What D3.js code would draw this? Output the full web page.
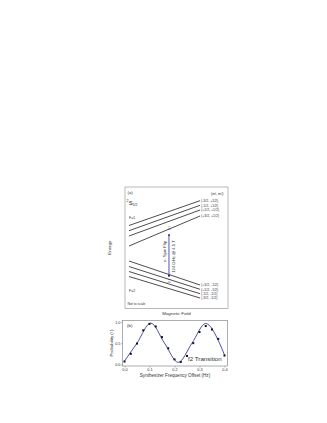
<!DOCTYPE html>
<html>
<head>
<meta charset="utf-8">
<script src="https://cdn.jsdelivr.net/npm/d3@7"></script>
<style>
  body { margin: 0; background: #fff; }
  text { font-family: "Liberation Sans", Arial, sans-serif; }
</style>
</head>
<body>
<script>
// Panel (a): energy levels, arbitrary units, read at the left and right ends
let upperLabels = ["(-3/2, +1/2)", "(-1/2, +1/2)", "(+1/2, +1/2)", "(+3/2, +1/2)"];
let upperStart = [83.5, 78.3, 73, 63];
let upperEnd = [108.3, 103.7, 99, 93];
let lowerLabels = ["(+3/2, -1/2)", "(+1/2, -1/2)", "(-1/2, -1/2)", "(-3/2, -1/2)"];
let lowerStart = [48, 42.5, 37.5, 32.5];
let lowerEnd = [24, 19.7, 15.3, 11];
let flipField = 0.563;
let flipFrom = 75;
let flipTo = 32;

// Panel (b): measured probability and the fitted curve
let offsets = [0, 0.025, 0.05, 0.075, 0.1, 0.125, 0.15, 0.175, 0.2, 0.225, 0.25, 0.275, 0.3, 0.325, 0.35, 0.375, 0.4];
let probs = [0.07, 0.25, 0.49, 0.8, 0.95, 0.89, 0.64, 0.38, 0.12, 0.06, 0.2, 0.5, 0.76, 0.9, 0.82, 0.6, 0.21];
let fitX = [0, 0.05, 0.105, 0.16, 0.215, 0.27, 0.325, 0.38, 0.4];
let fitY = [0.08, 0.5, 0.97, 0.5, 0.05, 0.5, 0.96, 0.5, 0.22];
let xTicks = [0, 0.1, 0.2, 0.3, 0.4];
let yTicks = [0, 0.5, 1.0];

let w = 327;
let h = 423;
let svg = d3.select("body").append("svg").attr("width", w).attr("height", h);

// ---------- panel (a)
let boxA = { x0: 125, y0: 187, x1: 228, y1: 308.5 };
svg.append("rect")
  .attr("x", boxA.x0).attr("y", boxA.y0)
  .attr("width", boxA.x1 - boxA.x0).attr("height", boxA.y1 - boxA.y0)
  .attr("fill", "none").attr("stroke", "#9a9a9a").attr("stroke-width", 0.7);

let fScale = d3.scaleLinear().domain([0, 1]).range([129, 200]);
let eScale = d3.scaleLinear().domain([0, 121]).range([309, 188]);

let levels = [];
upperLabels.forEach((l, i) => levels.push({ label: l, e0: upperStart[i], e1: upperEnd[i] }));
lowerLabels.forEach((l, i) => levels.push({ label: l, e0: lowerStart[i], e1: lowerEnd[i] }));

svg.selectAll("line.level")
  .data(levels)
  .enter()
  .append("line")
  .attr("class", "level")
  .attr("x1", fScale(0))
  .attr("y1", (d) => eScale(d.e0))
  .attr("x2", fScale(1))
  .attr("y2", (d) => eScale(d.e1))
  .attr("stroke", "#111")
  .attr("stroke-width", 0.75);

svg.selectAll("text.lvl")
  .data(levels)
  .enter()
  .append("text")
  .attr("class", "lvl")
  .attr("x", fScale(1) + 1)
  .attr("y", (d) => eScale(d.e1))
  .attr("dy", "0.35em")
  .attr("font-size", "3.5px")
  .attr("fill", "#333")
  .text((d) => d.label);

let hdr = svg.append("text")
  .attr("x", 211).attr("y", 194.5)
  .attr("font-size", "3.6px").attr("fill", "#333");
hdr.append("tspan").text("(m");
hdr.append("tspan").attr("font-size", "2.6px").attr("dy", 0.8).text("I");
hdr.append("tspan").attr("dy", -0.8).text(", m");
hdr.append("tspan").attr("font-size", "2.6px").attr("dy", 0.8).text("J");
hdr.append("tspan").attr("dy", -0.8).text(")");

svg.append("text").attr("x", 127.5).attr("y", 194).attr("font-size", "4.2px").attr("fill", "#333").text("(a)");

let term = svg.append("text").attr("x", 126.5).attr("y", 205).attr("fill", "#222");
term.append("tspan").attr("font-size", "3.4px").attr("dy", -2.6).text("2");
term.append("tspan").attr("font-size", "6px").attr("dx", 0.3).attr("dy", 2.6).text("S");
term.append("tspan").attr("font-size", "3.4px").attr("dy", 1.3).text("1/2");

svg.append("text").attr("x", 129).attr("y", 219).attr("font-size", "3.6px").attr("fill", "#333").text("F=1");
svg.append("text").attr("x", 129).attr("y", 292).attr("font-size", "3.6px").attr("fill", "#333").text("F=2");
svg.append("text").attr("x", 127.5).attr("y", 304.5).attr("font-size", "3.4px").attr("fill", "#333").text("Not to scale");

// spin flip arrow
let defs = svg.append("defs");
defs.append("marker")
  .attr("id", "ah")
  .attr("viewBox", "0 0 10 10")
  .attr("refX", 9).attr("refY", 5)
  .attr("markerWidth", 3.2).attr("markerHeight", 3.2)
  .attr("orient", "auto-start-reverse")
  .append("path").attr("d", "M0,0 L10,5 L0,10 Z").attr("fill", "#2a2a9a");

svg.append("line")
  .attr("x1", fScale(flipField)).attr("y1", eScale(flipFrom))
  .attr("x2", fScale(flipField)).attr("y2", eScale(flipTo))
  .attr("stroke", "#2a2a9a").attr("stroke-width", 0.8)
  .attr("marker-start", "url(#ah)").attr("marker-end", "url(#ah)");

let mid = (eScale(flipFrom) + eScale(flipTo)) / 2;
svg.append("text")
  .attr("transform", `translate(${fScale(flipField) - 4},${mid - 4}) rotate(-90)`)
  .attr("text-anchor", "middle").attr("dy", "0.35em")
  .attr("font-size", "4.2px").attr("fill", "#333")
  .text("e- Spin Flip");
svg.append("text")
  .attr("transform", `translate(${fScale(flipField) + 4.5},${mid + 1}) rotate(-90)`)
  .attr("text-anchor", "middle").attr("dy", "0.35em")
  .attr("font-size", "4.2px").attr("fill", "#333")
  .text("124 GHz @ 4.5 T");
svg.append("text")
  .attr("transform", `translate(${fScale(flipField)},${eScale(flipFrom) - 6}) rotate(-90)`)
  .attr("text-anchor", "middle").attr("dy", "0.35em")
  .attr("font-size", "3.4px").attr("fill", "#333")
  .text("|↑⟩");
svg.append("text")
  .attr("transform", `translate(${fScale(flipField)},${eScale(flipTo) + 4}) rotate(-90)`)
  .attr("text-anchor", "middle").attr("dy", "0.35em")
  .attr("font-size", "3.4px").attr("fill", "#333")
  .text("|↓⟩");

svg.append("text")
  .attr("x", (boxA.x0 + boxA.x1) / 2).attr("y", 314.5)
  .attr("text-anchor", "middle").attr("font-size", "4.4px").attr("fill", "#333")
  .text("Magnetic Field");
svg.append("text")
  .attr("transform", `translate(111,${(boxA.y0 + boxA.y1) / 2}) rotate(-90)`)
  .attr("text-anchor", "middle").attr("font-size", "4.4px").attr("fill", "#333")
  .text("Energy");

// ---------- panel (b)
let xScale = d3.scaleLinear().domain([-0.008, 0.412]).range([122.5, 227.5]);
let yScale = d3.scaleLinear().domain([-0.035, 1.03]).range([366, 320.5]);

svg.append("rect")
  .attr("x", 122.5).attr("y", 320.5)
  .attr("width", 105).attr("height", 45.5)
  .attr("fill", "none").attr("stroke", "#8a8a8a").attr("stroke-width", 0.7);

let xAxis = d3.axisBottom(xScale).tickValues(xTicks).tickFormat(d3.format(".1f")).tickSize(1.5).tickPadding(0.8);
let gx = svg.append("g").attr("transform", "translate(0,366)").call(xAxis);
let yAxis = d3.axisLeft(yScale).tickValues(yTicks).tickFormat(d3.format(".1f")).tickSize(1.5).tickPadding(0.6);
let gy = svg.append("g").attr("transform", "translate(122.5,0)").call(yAxis);
[gx, gy].forEach((g) => {
  g.select(".domain").remove();
  g.selectAll("line").attr("stroke", "#8a8a8a").attr("stroke-width", 0.6);
  g.selectAll("text").attr("font-size", "3.8px").attr("fill", "#333").attr("font-family", "Liberation Sans, Arial, sans-serif");
});

let fit = fitX.map((x, i) => [x, fitY[i]]);
svg.append("path")
  .datum(fit)
  .attr("d", d3.line().x((d) => xScale(d[0])).y((d) => yScale(d[1])).curve(d3.curveMonotoneX))
  .attr("fill", "none").attr("stroke", "#3b3ba8").attr("stroke-width", 0.9);

svg.selectAll("rect.pt")
  .data(offsets)
  .enter()
  .append("rect")
  .attr("class", "pt")
  .attr("x", (d) => xScale(d) - 1)
  .attr("y", (d, i) => yScale(probs[i]) - 1)
  .attr("width", 2).attr("height", 2)
  .attr("fill", "#111");

svg.append("text").attr("x", 127).attr("y", 327).attr("font-size", "4.4px").attr("fill", "#333").text("(b)");
svg.append("text").attr("x", 188).attr("y", 361).attr("font-size", "6.2px").attr("fill", "#333").text("f2 Transition");

svg.append("text")
  .attr("x", 175).attr("y", 376.5)
  .attr("text-anchor", "middle").attr("font-size", "4.6px").attr("fill", "#333")
  .text("Synthesizer Frequency Offset (Hz)");
svg.append("text")
  .attr("transform", "translate(112.5,343) rotate(-90)")
  .attr("text-anchor", "middle").attr("font-size", "4.4px").attr("fill", "#333")
  .text("Probability (↑)");
</script>
</body>
</html>
